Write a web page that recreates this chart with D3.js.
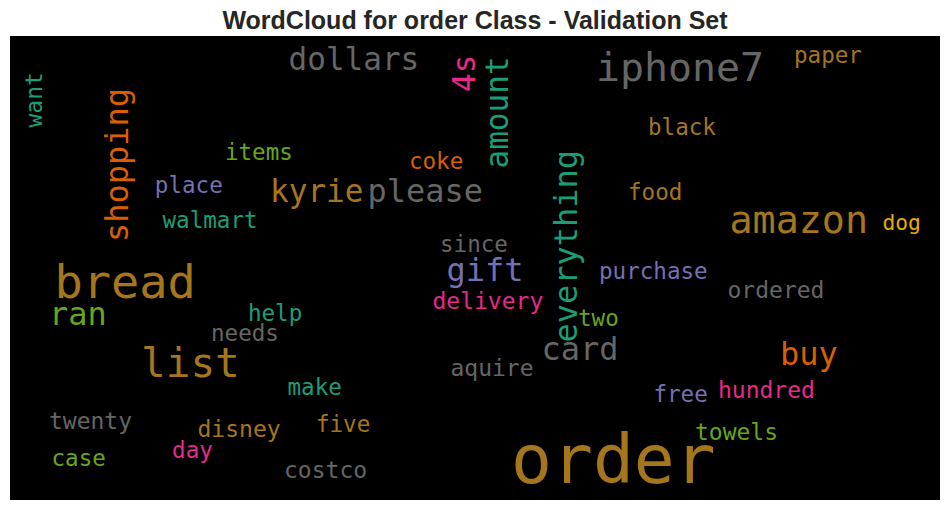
<!DOCTYPE html>
<html>
<head>
<meta charset="utf-8">
<script src="https://cdn.jsdelivr.net/npm/d3@7"></script>
<style>
  body { margin: 0; background: #ffffff; }
</style>
</head>
<body>
<svg id="cloud"></svg>
<script>
// words of the cloud, with their font weight and placement on the 800x400 wordcloud canvas
var words = ["order","iphone7","amazon","bread","list","dollars","kyrie","please","shopping","4s",
             "amount","everything","gift","card","buy","ran","paper","coke","items","place",
             "walmart","black","food","dog","since","purchase","ordered","help","delivery","two",
             "needs","aquire","make","free","hundred","twenty","disney","five","towels","case",
             "day","costco","want"]
var weights = [58.5,34.3,33.0,40.4,35.3,26.7,26.7,27.5,27.5,26.7,
               26.7,27.5,27.5,27.5,27.5,27.5,19.4,19.4,19.4,19.4,
               19.4,19.4,19.4,18.3,19.4,19.4,19.8,19.4,19.8,19.4,
               19.4,19.8,19.4,19.4,19.8,19.8,19.8,19.4,19.8,19.4,
               19.4,19.8,19.8]
var layoutX = [431.0,504.1,618.9,38.3,112.7,239.6,223.7,307.5,101.8,400.0,
               428.6,487.7,375.5,457.2,662.4,33.5,674.4,343.2,184.9,124.6,
               131.2,548.8,531.6,750.5,369.9,506.7,617.2,204.7,363.4,488.6,
               172.9,378.9,238.7,553.5,609.0,33.5,161.3,263.2,589.2,35.7,
               139.4,235.7,27.3]
var layoutY = [385.6,38.8,169.6,225.9,294.0,28.9,142.7,142.7,177.6,48.3,
               114.2,264.2,211.2,279.3,283.9,249.4,23.0,114.9,107.3,135.1,
               165.5,85.3,141.4,167.2,185.8,209.2,226.1,245.7,235.3,250.0,
               262.9,293.1,309.5,315.3,311.8,338.5,345.4,341.8,348.3,370.7,
               363.5,380.8,78.9]
var vertical = [0,0,0,0,0,0,0,0,1,1,
                1,1,0,0,0,0,0,0,0,0,
                0,0,0,0,0,0,0,0,0,0,
                0,0,0,0,0,0,0,0,0,0,
                0,0,1]
var colorIdx = [6,7,6,6,6,7,6,7,1,3,
                0,0,2,7,1,4,6,1,4,2,
                0,6,6,5,7,2,7,0,3,4,
                7,7,0,2,3,7,6,6,4,4,
                3,7,0]

var dimensions = {
    width: 950,
    height: 511,
    margin: {
        top: 36,
        bottom: 11,
        right: 10,
        left: 10
    }
}

var svg = d3.select("#cloud")
            .attr("width", dimensions.width)
            .attr("height", dimensions.height)

var dataset = words.map((w, i) => ({
    text: w,
    size: weights[i],
    x: layoutX[i],
    y: layoutY[i],
    rot: vertical[i],
    color: d3.schemeDark2[colorIdx[i]]
}))

var xScale = d3.scaleLinear()
               .domain([0, 800])
               .range([dimensions.margin.left, dimensions.width - dimensions.margin.right])
var yScale = d3.scaleLinear()
               .domain([0, 400])
               .range([dimensions.margin.top, dimensions.height - dimensions.margin.bottom])
var sizeScale = d3.scaleLinear()
                  .domain([0, 800])
                  .range([0, dimensions.width - dimensions.margin.left - dimensions.margin.right])

// title
svg.append("text")
   .attr("x", dimensions.width / 2)
   .attr("y", 28.5)
   .attr("text-anchor", "middle")
   .style("font-family", "'Liberation Sans', Arial, sans-serif")
   .style("font-weight", "bold")
   .style("font-size", "25px")
   .style("fill", "#262626")
   .text("WordCloud for order Class - Validation Set")

// black canvas of the image
svg.append("rect")
   .attr("x", xScale(0))
   .attr("y", yScale(0))
   .attr("width", xScale(800) - xScale(0))
   .attr("height", yScale(400) - yScale(0))
   .style("fill", "#000000")

svg.append("g")
   .selectAll("text")
   .data(dataset)
   .enter()
   .append("text")
   .attr("transform", d => `translate(${xScale(d.x)},${yScale(d.y)})` + (d.rot ? " rotate(-90)" : ""))
   .attr("text-anchor", "start")
   .style("font-family", "'DejaVu Sans Mono', monospace")
   .style("font-size", d => sizeScale(d.size) + "px")
   .style("fill", d => d.color)
   .text(d => d.text)
</script>
</body>
</html>
